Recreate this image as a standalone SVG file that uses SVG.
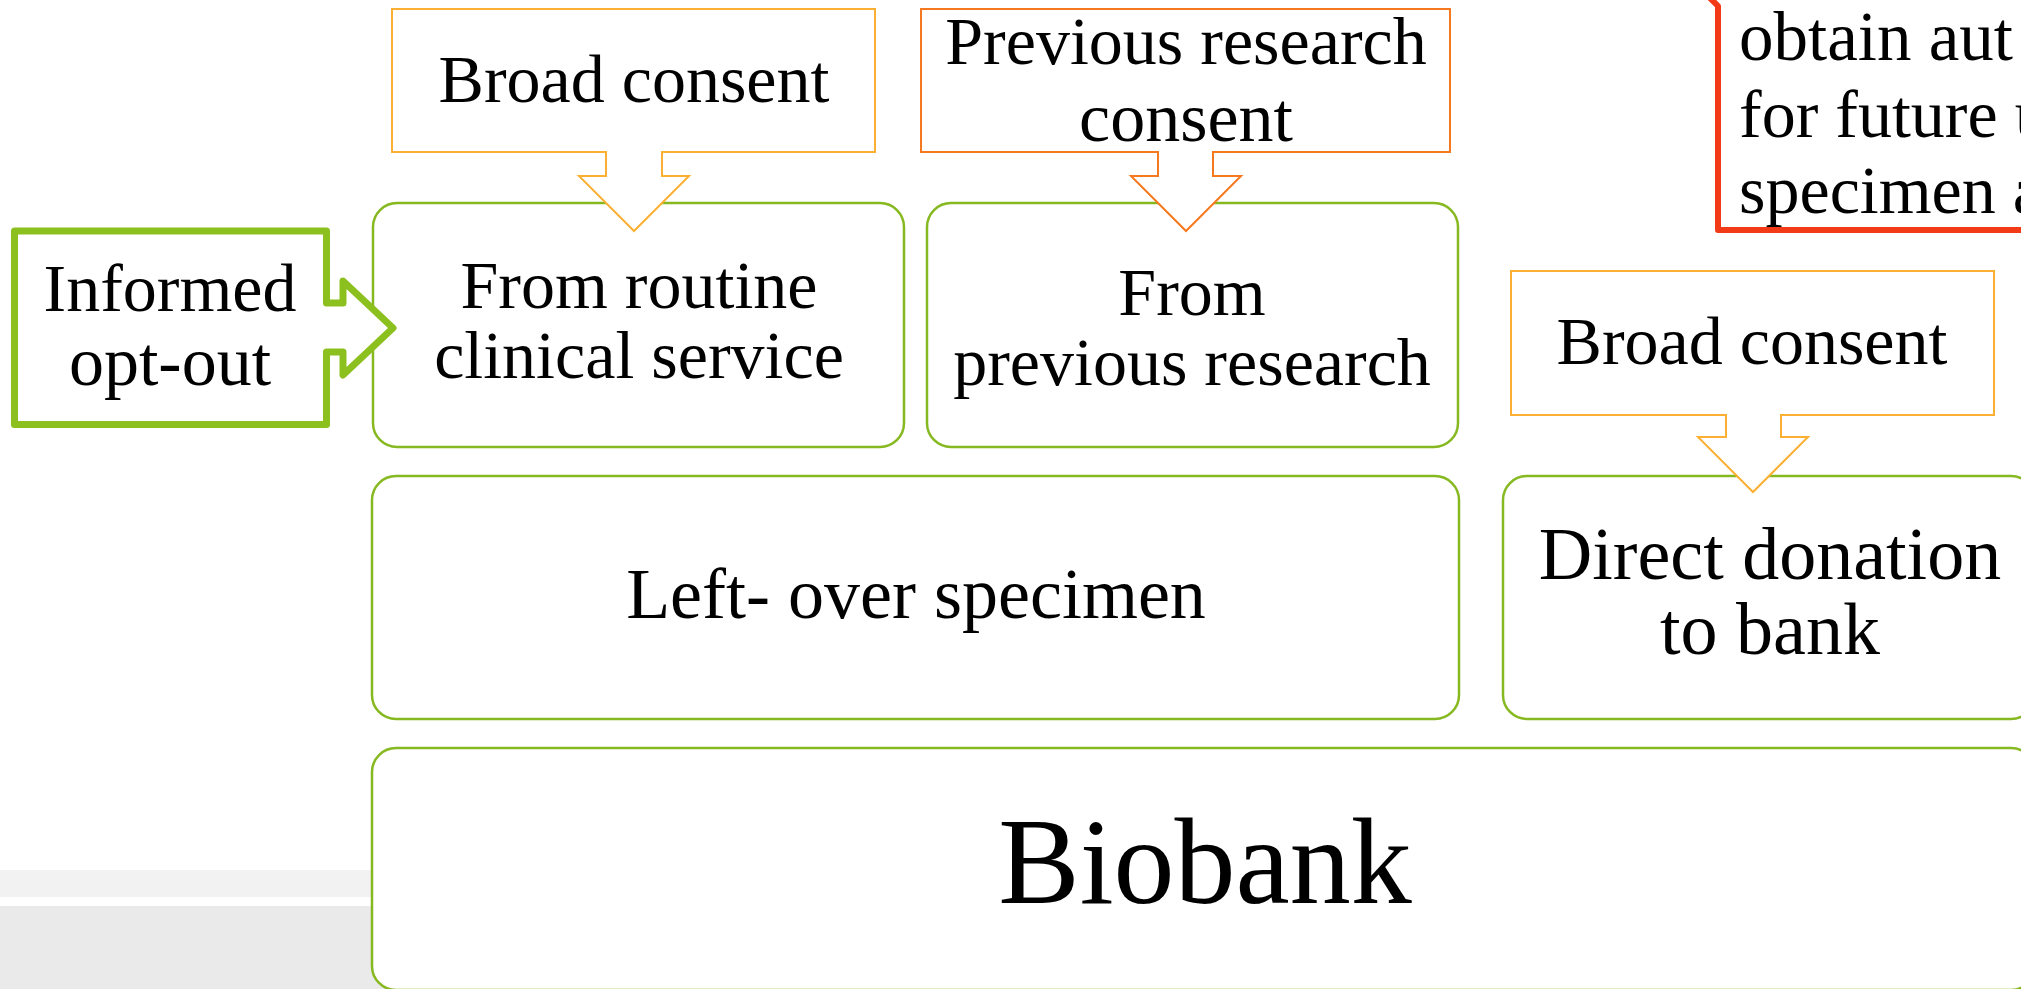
<svg xmlns="http://www.w3.org/2000/svg" width="2021" height="989" viewBox="0 0 2021 989">
  <style>
    .box { fill: #FFFFFF; stroke: #86B820; stroke-width: 2.5; }
    .call-light { fill: #FFFFFF; stroke: #FBB034; stroke-width: 2; }
    .call-dark { fill: #FFFFFF; stroke: #F6791F; stroke-width: 2; }
    .optout { fill: #FFFFFF; stroke: #8CC01F; stroke-width: 7; stroke-linejoin: round; }
    .note { fill: #FFFFFF; stroke: #F23B16; stroke-width: 6; stroke-linejoin: round; }
    text { font-family: "Liberation Serif", "DejaVu Serif", serif; fill: #000000; font-size: 68px; }
    .c { text-anchor: middle; }
    .big { font-size: 122px; }
  </style>

  <!-- slide background bands -->
  <g id="background">
    <rect x="0" y="870" width="2021" height="27" fill="#F2F2F2"/>
    <rect x="0" y="906" width="2021" height="83" fill="#EAEAEA"/>
  </g>

  <!-- rounded source / destination boxes -->
  <g id="routine">
    <rect class="box" x="373" y="203" width="531" height="244" rx="24"/>
    <text class="c" x="639" y="308">From routine</text>
    <text class="c" x="639" y="378">clinical service</text>
  </g>
  <g id="previous">
    <rect class="box" x="927" y="203" width="531" height="244" rx="24"/>
    <text class="c" x="1192" y="315">From</text>
    <text class="c" x="1192" y="385">previous research</text>
  </g>
  <g id="leftover">
    <rect class="box" x="372" y="476" width="1087" height="243" rx="24"/>
    <text class="c" x="916" y="618" style="font-size:72px">Left- over specimen</text>
  </g>
  <g id="donation">
    <rect class="box" x="1503" y="476" width="532" height="243" rx="24"/>
    <text class="c" x="1770" y="579" style="font-size:74px">Direct donation</text>
    <text class="c" x="1770" y="654" style="font-size:74px">to bank</text>
  </g>
  <g id="biobank">
    <rect class="box" x="372" y="748" width="1663" height="242" rx="24"/>
    <text class="c big" x="1205" y="903">Biobank</text>
  </g>

  <!-- connectors: the consent callouts and the opt-out arrow point into the boxes -->
  <g id="connectors">
    <g id="broad-consent-1">
      <path class="call-light" d="M392,9 H875 V152 H662 V176 H689 L634,231 L579,176 H606 V152 H392 Z"/>
      <text class="c" x="634" y="102">Broad consent</text>
    </g>
    <g id="previous-consent">
      <path class="call-dark" d="M921,9 H1450 V152 H1213 V176 H1241 L1186,231 L1131,176 H1158 V152 H921 Z"/>
      <text class="c" x="1186" y="64">Previous research</text>
      <text class="c" x="1186" y="141" style="font-size:70px">consent</text>
    </g>
    <g id="broad-consent-2">
      <path class="call-light" d="M1511,271 H1994 V415 H1781 V437 H1808 L1753,492 L1698,437 H1726 V415 H1511 Z"/>
      <text class="c" x="1752" y="364">Broad consent</text>
    </g>
    <g id="informed-optout">
      <path class="optout" d="M14.5,231 H326.5 V303 H343 V281 L393,328 L343,375 V352 H326.5 V424.5 H14.5 Z"/>
      <text class="c" x="170" y="311">Informed</text>
      <text class="c" x="170" y="385" style="font-size:70px">opt-out</text>
    </g>
  </g>

  <!-- red note box, running off the top-right corner -->
  <g id="authorization-note">
    <path class="note" d="M1706,-6 L1718,6 V230 H2045 V-30 H1706 Z"/>
    <text x="1739" y="60" style="font-size:69px">obtain aut</text>
    <text x="1739" y="137">for future u</text>
    <text x="1739" y="213">specimen a</text>
  </g>
</svg>
